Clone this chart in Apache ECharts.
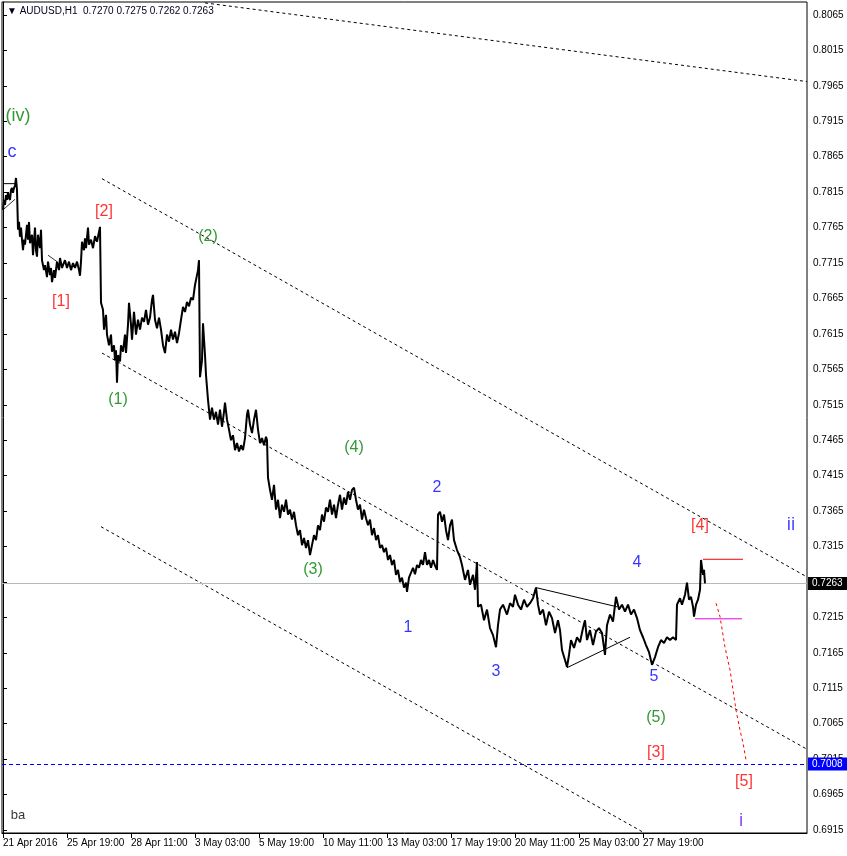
<!DOCTYPE html>
<html><head><meta charset="utf-8">
<script src="https://cdn.jsdelivr.net/npm/echarts@6/dist/echarts.min.js"></script>
<style>html,body{margin:0;padding:0;background:#fff}#c{width:847px;height:856px}</style>
</head><body><div id="c"></div>
<script>
// ---------- DATA ----------
const symbolName = "AUDUSD,H1";
const lastOHLC = [0.7270, 0.7275, 0.7262, 0.7263];
const currentPrice = 0.7263;
const targetLevel = 0.7008;

// x axis: hourly bar index; tick labels
const xTickBars = [0, 64, 128, 192, 256, 320, 384, 448, 512, 576, 640];
const xTickLabels = ["21 Apr 2016", "25 Apr 19:00", "28 Apr 11:00", "3 May 03:00", "5 May 19:00",
  "10 May 11:00", "13 May 03:00", "17 May 19:00", "20 May 11:00", "25 May 03:00", "27 May 19:00"];

// y axis tick values
const yTickValues = [0.6915, 0.6965, 0.7015, 0.7065, 0.7115, 0.7165, 0.7215, 0.7265, 0.7315, 0.7365,
  0.7415, 0.7465, 0.7515, 0.7565, 0.7615, 0.7665, 0.7715, 0.7765, 0.7815, 0.7865, 0.7915, 0.7965, 0.8015, 0.8065];

// price path (bar index, price)
const priceBars = [0,1,2,3,4,5,6,7,8,9,10,11,12,13,14,15,16,17,18,19,20,21,22,24,25,26,27,29,30,32,33,34,35,37,38,39,40,41,42,44,45,47,48,49,51,52,54,56,57,59,60,62,64,66,68,70,72,74,76,77,78,79,81,82,83,85,86,88,90,92,94,96,97,
  98,100,101,103,104,106,108,109,111,112,113,114,115,117,118,120,122,123,125,126,128,129,131,133,135,137,139,141,143,145,147,149,150,152,154,156,158,160,162,164,166,168,170,172,174,176,178,180,182,184,186,188,190,192,194,195,196,
  197,199,200,202,203,205,207,209,211,213,215,217,219,221,222,224,226,228,230,232,234,236,238,240,242,244,245,247,249,251,253,255,257,259,261,263,264,
  265,267,269,271,273,275,277,279,281,283,285,287,289,291,293,295,297,299,301,303,305,307,309,311,313,315,317,319,321,323,325,327,329,331,333,335,337,339,341,343,345,347,349,351,
  353,355,357,359,361,363,365,367,369,371,373,375,377,379,381,383,385,387,389,391,393,395,397,399,401,403,404,406,408,410,412,414,416,418,420,422,424,426,428,430,432,434,
  435,437,439,441,443,445,447,449,451,454,457,459,462,465,467,470,472,474,475,478,481,484,487,490,493,495,497,500,504,507,510,512,515,518,521,524,527,530,533,
  535,537,540,543,546,549,552,555,557,559,562,564,566,568,571,574,577,580,582,584,587,590,593,596,599,602,604,607,610,613,616,619,622,625,628,631,634,637,640,643,646,649,652,655,658,661,664,667,670,673,
  674,677,679,682,684,686,688,690,691,693,695,697,698,700,701,702];
const priceVals = [0.7790,0.7804,0.7797,0.7811,0.7804,0.7815,0.7807,0.7804,0.7818,0.7821,0.7814,0.7821,0.7824,0.7835,0.7818,0.7762,0.7773,0.7752,0.7765,0.7748,0.7733,0.7748,0.7741,0.7769,0.7748,0.7773,0.7743,0.7755,0.7726,0.7765,0.7733,0.7724,0.7755,0.7736,0.7762,0.7719,0.7717,0.7705,0.7712,0.7695,0.7717,0.7698,0.7708,0.7688,0.7705,0.7694,0.7717,0.7705,0.7722,0.7708,0.7712,0.7719,0.7708,0.7717,0.7705,0.7715,0.7708,0.7717,0.7705,0.7697,0.7717,0.7745,0.7733,0.7750,0.7736,0.7765,0.7741,0.7748,0.7736,0.7753,0.7745,0.7759,0.7766,
  0.7659,0.7649,0.7621,0.7642,0.7614,0.7599,0.7614,0.7590,0.7599,0.7578,0.7592,0.7546,0.7585,0.7576,0.7599,0.7590,0.7614,0.7588,0.7628,0.7659,0.7628,0.7607,0.7646,0.7614,0.7635,0.7621,0.7638,0.7632,0.7649,0.7628,0.7638,0.7663,0.7670,0.7635,0.7623,0.7638,0.7621,0.7599,0.7588,0.7614,0.7604,0.7621,0.7607,0.7618,0.7602,0.7616,0.7635,0.7653,0.7646,0.7660,0.7654,0.7666,0.7663,0.7684,0.7698,0.7705,0.7719,
  0.7554,0.7578,0.7630,0.7585,0.7557,0.7522,0.7494,0.7511,0.7494,0.7505,0.7487,0.7508,0.7484,0.7505,0.7518,0.7494,0.7480,0.7465,0.7472,0.7451,0.7461,0.7449,0.7458,0.7451,0.7468,0.7501,0.7508,0.7487,0.7475,0.7494,0.7508,0.7480,0.7461,0.7468,0.7458,0.7470,0.7465,
  0.7412,0.7395,0.7381,0.7402,0.7367,0.7381,0.7355,0.7374,0.7364,0.7381,0.7360,0.7367,0.7353,0.7364,0.7345,0.7331,0.7338,0.7317,0.7327,0.7313,0.7324,0.7303,0.7317,0.7331,0.7324,0.7345,0.7338,0.7360,0.7350,0.7370,0.7364,0.7381,0.7360,0.7374,0.7355,0.7374,0.7388,0.7367,0.7384,0.7374,0.7392,0.7381,0.7395,0.7398,
  0.7381,0.7367,0.7374,0.7353,0.7367,0.7355,0.7345,0.7353,0.7331,0.7341,0.7324,0.7331,0.7313,0.7317,0.7307,0.7313,0.7296,0.7303,0.7289,0.7296,0.7275,0.7282,0.7265,0.7271,0.7257,0.7264,0.7251,0.7271,0.7278,0.7285,0.7276,0.7289,0.7285,0.7296,0.7289,0.7307,0.7289,0.7296,0.7285,0.7296,0.7288,0.7282,
  0.7360,0.7364,0.7350,0.7360,0.7338,0.7324,0.7345,0.7353,0.7324,0.7310,0.7300,0.7289,0.7268,0.7282,0.7261,0.7275,0.7254,0.7293,0.7230,0.7233,0.7211,0.7226,0.7200,0.7190,0.7173,0.7204,0.7226,0.7233,0.7219,0.7235,0.7230,0.7247,0.7233,0.7226,0.7240,0.7230,0.7235,0.7242,0.7257,
  0.7233,0.7219,0.7226,0.7204,0.7223,0.7214,0.7193,0.7211,0.7197,0.7169,0.7155,0.7145,0.7162,0.7183,0.7172,0.7187,0.7180,0.7200,0.7211,0.7183,0.7197,0.7176,0.7195,0.7200,0.7193,0.7162,0.7204,0.7219,0.7209,0.7244,0.7226,0.7233,0.7223,0.7233,0.7219,0.7226,0.7214,0.7197,0.7187,0.7176,0.7166,0.7148,0.7159,0.7173,0.7183,0.7179,0.7187,0.7183,0.7187,0.7183,
  0.7233,0.7242,0.7233,0.7247,0.7264,0.7240,0.7244,0.7230,0.7216,0.7233,0.7240,0.7254,0.7296,0.7275,0.7282,0.7263];

// drawn trendlines (bar, price)
const channelTop = [[202, 0.8082], [804, 0.7971]];
const channelUpper = [[99, 0.7834], [804, 0.7272]];
const channelMiddle = [[99, 0.7588], [804, 0.7029]];
const channelLower = [[98, 0.7343], [640, 0.6912]];
const triangleUpper = [[533, 0.7257], [614, 0.7230]];
const triangleLower = [[564, 0.7144], [627, 0.7187]];
const waveFourHigh = [[700, 0.7297], [740, 0.7297]];
const waveFourLow = [[692, 0.7213], [739, 0.7213]];
const projection = [[713, 0.7235], [717, 0.7216], [722, 0.7173], [727, 0.7141], [730, 0.7113], [733, 0.7084], [737, 0.7056], [740, 0.7038], [743, 0.7014]];
const startBox = [[0, 0.7827], [13, 0.7827]];
const startDiag = [[0, 0.7790], [12, 0.7805]];
const smallDiag = [[45, 0.7726], [54, 0.7717]];

// wave labels
const waveText  = ["(iv)", "c", "[1]", "[2]", "(1)", "(2)", "(3)", "(4)", "1", "2", "3", "4", "5", "(5)", "[3]", "[4]", "[5]", "ii", "i", "ba"];
const waveBar   = [15, 9, 58, 101, 115, 205, 310, 351, 405, 434, 493, 634, 651, 653, 653, 697, 741, 788, 738, 15];
const wavePrice = [0.7923, 0.7872, 0.7660, 0.7787, 0.7522, 0.7753, 0.7282, 0.7455, 0.7200, 0.7398, 0.7138, 0.7293, 0.7131, 0.7073, 0.7024, 0.7344, 0.6984, 0.7345, 0.6928, 0.6935];
const waveKind  = ["minute", "sub", "primary", "primary", "inter", "inter", "inter", "inter", "minor", "minor", "minor", "minor", "minor", "inter", "primary", "primary", "primary", "major", "majorI", "misc"];

// ---------- STYLE ----------
const kindStyle = {
  minute:  { color: "#008000", size: 18 },
  sub:     { color: "#0000ff", size: 18 },
  primary: { color: "#ff0000", size: 16 },
  inter:   { color: "#008000", size: 16 },
  minor:   { color: "#0000ff", size: 16 },
  major:   { color: "#1f1fff", size: 19 },
  majorI:  { color: "#6f1fff", size: 19 },
  misc:    { color: "#000000", size: 13 }
};
const FONT = "Liberation Sans";

function lineSeries(pts, color, type, width) {
  return { type: 'line', data: pts, showSymbol: false, symbol: 'none', silent: true, animation: false,
    lineStyle: { color: color, type: type, width: width || 1 }, z: 3 };
}

const chart = echarts.init(document.getElementById('c'), null, { renderer: 'canvas' });
const priceData = priceBars.map((b, i) => [b, priceVals[i]]);

const option = {
  animation: false,
  backgroundColor: '#fff',
  grid: { left: 2, right: 40, top: 2, bottom: 23, show: true, borderColor: '#000', borderWidth: 1, backgroundColor: '#fff' },
  xAxis: {
    type: 'value', min: -1, max: 804,
    axisLine: { show: true, lineStyle: { color: '#000' } },
    axisTick: { show: true, customValues: xTickBars, length: 5, lineStyle: { color: '#000' } },
    axisLabel: { customValues: xTickBars, align: 'left', margin: 5, fontSize: 10, fontFamily: FONT, color: '#000',
      formatter: v => xTickLabels[xTickBars.indexOf(Math.round(v))] || '' },
    splitLine: { show: false }
  },
  yAxis: {
    type: 'value', position: 'right', min: 0.69108, max: 0.80833, scale: true,
    axisLine: { show: true, lineStyle: { color: '#000' } },
    axisTick: { show: true, customValues: yTickValues, length: 4, lineStyle: { color: '#000' } },
    axisLabel: { customValues: yTickValues, margin: 6, fontSize: 10, fontFamily: FONT, color: '#000',
      formatter: v => v.toFixed(4) },
    splitLine: { show: false }
  },
  graphic: [{
    type: 'text', left: 7, top: 6, z: 10,
    style: { text: '\u25BC ' + symbolName + '  ' + lastOHLC.map(v => v.toFixed(4)).join(' '),
      fill: '#000020', font: '10px "' + FONT + '"' }
  }],
  series: [
    {
      type: 'line', data: priceData, showSymbol: false, symbol: 'none', silent: true, z: 5,
      lineStyle: { color: '#000', width: 2 },
      markLine: {
        silent: true, symbol: 'none', animation: false, precision: 4,
        data: [
          { yAxis: currentPrice, lineStyle: { color: '#b8b8b8', type: 'solid', width: 1 },
            label: { show: true, position: 'end', distance: 1, formatter: currentPrice.toFixed(4), color: '#fff',
              backgroundColor: '#000', padding: [2, 5, 1, 4], fontSize: 10, fontFamily: FONT } },
          { yAxis: targetLevel, lineStyle: { color: '#0000ff', type: [4, 3], width: 1 },
            label: { show: true, position: 'end', distance: 1, formatter: targetLevel.toFixed(4), color: '#fff',
              backgroundColor: '#0000ff', padding: [2, 5, 1, 4], fontSize: 10, fontFamily: FONT } }
        ]
      }
    },
    lineSeries(channelTop, '#000', [3, 3], 1),
    lineSeries(channelUpper, '#000', [3, 3], 1),
    lineSeries(channelMiddle, '#000', [3, 3], 1),
    lineSeries(channelLower, '#000', [3, 3], 1),
    lineSeries(triangleUpper, '#000', 'solid', 1),
    lineSeries(triangleLower, '#000', 'solid', 1),
    lineSeries(waveFourHigh, '#ff0000', 'solid', 1),
    lineSeries(waveFourLow, '#e000e0', 'solid', 1),
    lineSeries(projection, '#ff0000', [3, 3], 1),
    lineSeries(startBox, '#000', 'solid', 1),
    lineSeries(startDiag, '#000', 'solid', 0.8),
    lineSeries(smallDiag, '#000', 'solid', 0.8),
    {
      type: 'scatter', symbolSize: 0, silent: true, z: 6,
      data: waveText.map((t, i) => ({
        value: [waveBar[i], wavePrice[i]],
        label: { show: true, position: 'inside', formatter: t, color: kindStyle[waveKind[i]].color,
          fontSize: kindStyle[waveKind[i]].size, fontFamily: FONT }
      }))
    }
  ]
};
chart.setOption(option);
</script>
</body></html>
